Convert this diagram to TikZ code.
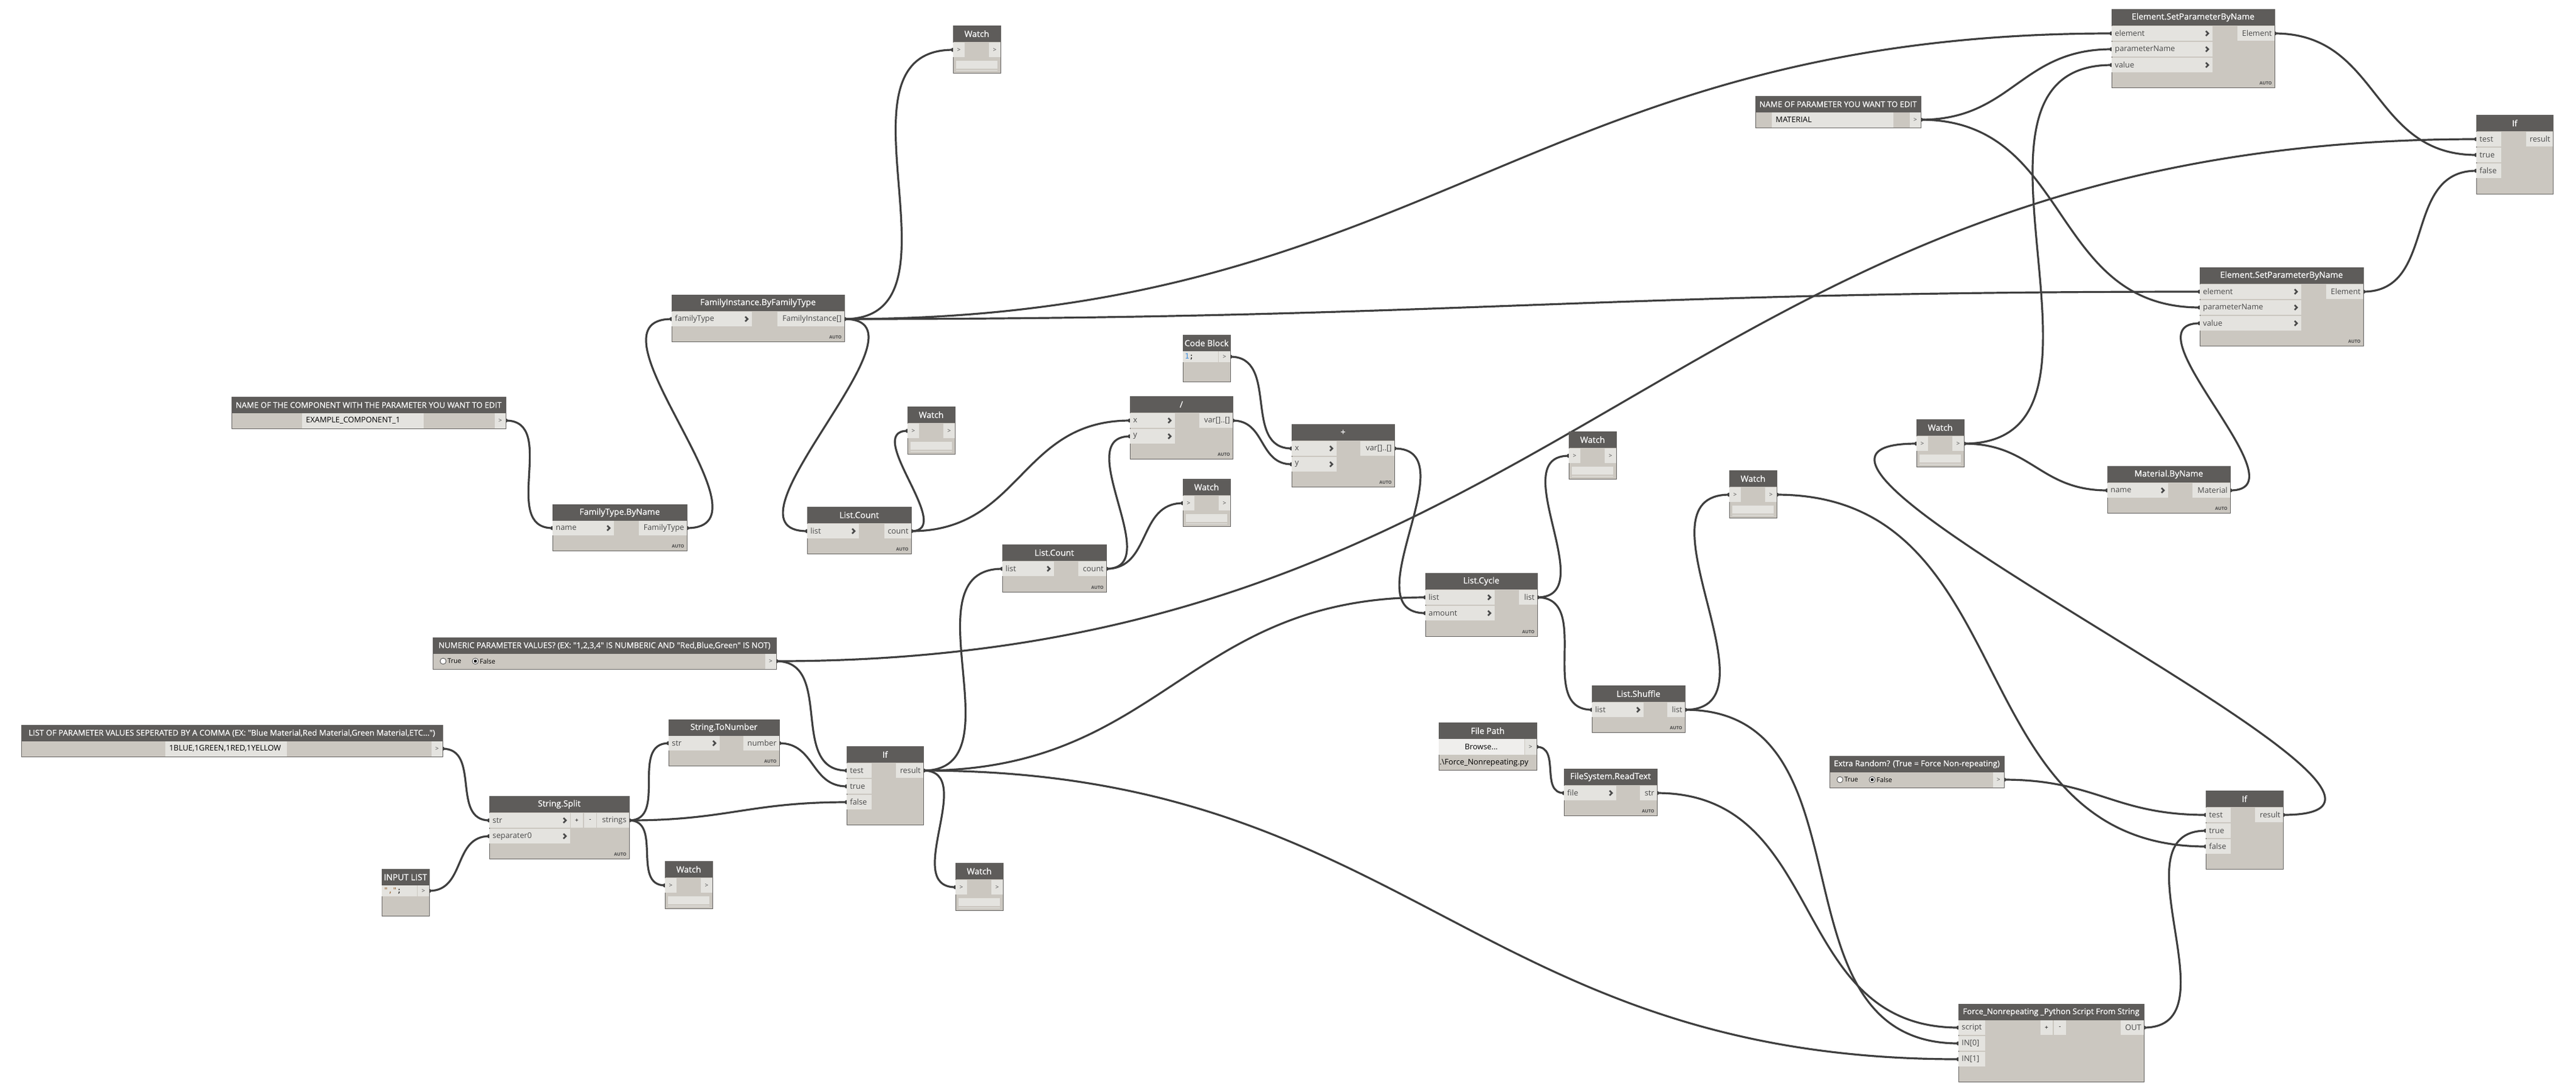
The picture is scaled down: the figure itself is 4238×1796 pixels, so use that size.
\documentclass[tikz,border=0pt]{standalone}
\usepackage{fontspec}
\setmainfont{Open Sans}
\setmonofont{DejaVu Sans Mono}
\newfontface\headface{Open Sans}[FakeBold=0.5]
\definecolor{hdgray}{RGB}{94,92,90}
\definecolor{bdgray}{RGB}{203,199,192}
\definecolor{ptgray}{RGB}{228,227,223}
\definecolor{edgray}{RGB}{100,98,96}
\definecolor{wrgray}{RGB}{62,62,62}
\definecolor{txgray}{RGB}{72,72,72}
\definecolor{dnum}{RGB}{58,140,222}
\definecolor{dstr}{RGB}{150,95,45}
\usetikzlibrary{positioning,calc,backgrounds}

\newcommand{\longtitle}{\fontsize{6.6}{8}\selectfont}
\newcommand{\dynbox}[6]{%
  \node[dbox, minimum width={(#4-#2)*0.5pt}, minimum height={(#5-#3)*0.5pt}] (#1) at (#2,#3) {};
  \fill[hdgray] (#2,#3) rectangle (#4,#3+27);
  \node[dtitle] at ({(#2+#4)/2},#3+13.5) {#6};
}
\newcommand{\dinput}[5]{%
  \fill[ptgray] (#2,#4-12.5) rectangle (#3,#4+12);
  \node[dlabel, anchor=west] at (#2+5,#4) {#5};
  \draw[chev] (#3-11,#4-4) -- (#3-7,#4) -- (#3-11,#4+4);
  \coordinate (#1) at (#2,#4);
}
\newcommand{\dinplain}[5]{%
  \fill[ptgray] (#2,#4-12.5) rectangle (#3,#4+12);
  \node[dlabel, anchor=west] at (#2+5,#4) {#5};
  \coordinate (#1) at (#2,#4);
}
\newcommand{\doutput}[5]{%
  \fill[ptgray] (#2,#4-12.5) rectangle (#3,#4+12);
  \node[dlabel, anchor=east] at (#3-4,#4) {#5};
  \coordinate (#1) at (#3,#4);
}
\newcommand{\dauto}[2]{\node[dauto] at (#1-4,#2-4) {AUTO};}
\newcommand{\dbtns}[2]{%
  \fill[ptgray] (#1,#2-12.5) rectangle (#1+20,#2+12);
  \fill[ptgray] (#1+22,#2-12.5) rectangle (#1+42,#2+12);
  \node[dsmall, text=black] at (#1+10,#2) {+};
  \node[dsmall, text=black] at (#1+32,#2) {-};
}
\newcommand{\dwatch}[3]{%
  \dynbox{#1}{#2}{#3}{#2+78}{#3+78}{Watch}
  \fill[ptgray] (#2,#3+28) rectangle (#2+19,#3+52);
  \fill[ptgray] (#2+59,#3+28) rectangle (#2+78,#3+52);
  \node[dsmall] at (#2+9.5,#3+40) {>};
  \node[dsmall] at (#2+68.5,#3+40) {>};
  \fill[ptgray] (#2+5,#3+58) rectangle (#2+73,#3+71);
  \fill[ptgray!60!bdgray] (#2+5,#3+72.5) rectangle (#2+73,#3+74.5);
  \coordinate (#1-i) at (#2,#3+40);
  \coordinate (#1-o) at (#2+78,#3+40);
}
\newcommand{\dstring}[8]{%
  \dynbox{#1}{#2}{#3}{#4}{#3+52}{\longtitle #8}
  \fill[ptgray] (#5,#3+27) rectangle (#6,#3+52);
  \node[dlabel, text=black, anchor=west] at (#5+6,#3+39) {#7};
  \fill[ptgray] (#4-18,#3+27) rectangle (#4,#3+52);
  \node[dsmall] at (#4-9,#3+39) {>};
  \coordinate (#1-o) at (#4,#3+39);
}
\newcommand{\dbool}[5]{%
  \dynbox{#1}{#2}{#3}{#4}{#3+52}{\longtitle #5}
  \draw[txgray, fill=white, line width=0.4pt] (#2+17,#3+39) circle (5);
  \node[dradio, anchor=west] at (#2+24,#3+39) {True};
  \draw[txgray, fill=white, line width=0.4pt] (#2+70,#3+39) circle (5);
  \fill[black] (#2+70,#3+39) circle (2.5);
  \node[dradio, anchor=west] at (#2+77,#3+39) {False};
  \fill[ptgray] (#4-18,#3+27) rectangle (#4,#3+52);
  \node[dsmall] at (#4-9,#3+39) {>};
  \coordinate (#1-o) at (#4,#3+39);
}
\newcommand{\dcode}[5]{%
  \dynbox{#1}{#2}{#3}{#2+78}{#3+77}{#4}
  \fill[ptgray] (#2,#3+27) rectangle (#2+58,#3+45);
  \fill[ptgray] (#2+59,#3+27) rectangle (#2+78,#3+45);
  \node[dcodetxt, anchor=west] at (#2+3,#3+36) {#5};
  \node[dsmall] at (#2+68.5,#3+36) {>};
  \coordinate (#1-o) at (#2+78,#3+36);
}
\newcommand{\wire}[2]{%
  \draw[wire] let \p1=(#1), \p2=(#2), \n1={9*veclen((\x2-\x1)/20,(\y2-\y1)/20)} in
    (#1) .. controls +(\n1,0) and +(-\n1,0) .. (#2);
  \fill[wrgray] (#1) circle (3.5) (#2) circle (3.5);
}

\begin{document}
\begin{tikzpicture}[x=0.5pt, y=-0.5pt,
    dbox/.style={draw=edgray, line width=0.5pt, fill=bdgray, anchor=north west, inner sep=0pt, outer sep=0pt},
    dtitle/.style={text=white, font=\headface\fontsize{7}{8.4}\selectfont, inner sep=0pt},
    dlabel/.style={text=txgray, font=\fontsize{6.4}{7.6}\selectfont, inner sep=0pt},
    dradio/.style={text=black, font=\fontsize{5.4}{6.5}\selectfont, inner sep=0pt},
    dsmall/.style={text=txgray, font=\fontsize{5}{6}\selectfont, inner sep=0pt},
    dcodetxt/.style={font=\fontsize{6}{7}\selectfont\ttfamily, inner sep=0pt},
    dauto/.style={text=txgray, font=\fontsize{3.6}{4}\selectfont\bfseries, inner sep=0pt, anchor=south east},
    chev/.style={draw=txgray, line width=1.3pt},
    wire/.style={draw=wrgray, line width=1.6pt}]
  \useasboundingbox (0,0) rectangle (4238,1796);

  \dstring{compname}{381}{653}{832}{497}{697}{EXAMPLE\_COMPONENT\_1}{NAME OF THE COMPONENT WITH THE PARAMETER YOU WANT TO EDIT}
  \dstring{lpv}{35}{1193}{728}{272}{472}{1BLUE,1GREEN,1RED,1YELLOW}{LIST OF PARAMETER VALUES SEPERATED BY A COMMA (EX: "Blue Material,Red Material,Green Material,ETC...")}
  \dstring{param}{2888}{158}{3160}{2915}{3115}{MATERIAL}{NAME OF PARAMETER YOU WANT TO EDIT}
  \dbool{numeric}{712}{1049}{1277}{NUMERIC PARAMETER VALUES? (EX: "1,2,3,4" IS NUMBERIC AND "Red,Blue,Green" IS NOT)}
  \dbool{extra}{3010}{1244}{3297}{Extra Random? (True = Force Non-repeating)}
  \dcode{code}{1946}{551}{Code Block}{\textcolor{dnum}{1};}
  \dcode{inlist}{628}{1430}{INPUT LIST}{\textcolor{dstr}{","};}

  \dynbox{ftbn}{909}{830}{1130}{906}{FamilyType.ByName}
  \dinput{ftbn-i1}{909}{1010}{869}{name}
  \doutput{ftbn-o}{1051}{1130}{869}{FamilyType}
  \dauto{1130}{906}

  \dynbox{fibt}{1105}{485}{1389}{562}{FamilyInstance.ByFamilyType}
  \dinput{fibt-i1}{1105}{1237}{525}{familyType}
  \doutput{fibt-o}{1279}{1389}{525}{FamilyInstance[]}
  \dauto{1389}{562}

  \dynbox{lcA}{1328}{834}{1499}{911}{List.Count}
  \dinput{lcA-i1}{1328}{1413}{874}{list}
  \doutput{lcA-o}{1455}{1499}{874}{count}
  \dauto{1499}{911}

  \dynbox{lcB}{1649}{896}{1820}{974}{List.Count}
  \dinput{lcB-i1}{1649}{1734}{936}{list}
  \doutput{lcB-o}{1774}{1820}{936}{count}
  \dauto{1820}{974}

  \dynbox{divn}{1859}{652}{2028}{755}{/}
  \dinput{divn-i1}{1859}{1933}{692}{x}
  \dinput{divn-i2}{1859}{1933}{718}{y}
  \doutput{divn-o}{1973}{2028}{692}{var[]..[]}
  \dauto{2028}{755}

  \dynbox{plus}{2125}{698}{2294}{801}{+}
  \dinput{plus-i1}{2125}{2199}{738}{x}
  \dinput{plus-i2}{2125}{2199}{764}{y}
  \doutput{plus-o}{2238}{2294}{738}{var[]..[]}
  \dauto{2294}{801}

  \dynbox{cycle}{2345}{943}{2529}{1047}{List.Cycle}
  \dinput{cycle-i1}{2345}{2459}{983}{list}
  \dinput{cycle-i2}{2345}{2459}{1009}{amount}
  \doutput{cycle-o}{2499}{2529}{983}{list}
  \dauto{2529}{1047}

  \dynbox{shuffle}{2619}{1128}{2772}{1205}{List.Shuffle}
  \dinput{shuffle-i1}{2619}{2704}{1168}{list}
  \doutput{shuffle-o}{2743}{2772}{1168}{list}
  \dauto{2772}{1205}

  \dynbox{fpath}{2367}{1189}{2528}{1267}{File Path}
  \fill[ptgray!60!white] (2367,1216) rectangle (2508,1242);
  \node[dlabel, text=black] at (2437,1229) {Browse...};
  \fill[ptgray] (2509,1216) rectangle (2528,1242);
  \node[dsmall] at (2518,1229) {>};
  \node[dlabel, text=black, anchor=west] at (2368,1255) {.\textbackslash Force\_Nonrepeating.py};
  \coordinate (fpath-o) at (2528,1229);

  \dynbox{rtext}{2573}{1265}{2726}{1342}{FileSystem.ReadText}
  \dinput{rtext-i1}{2573}{2659}{1305}{file}
  \doutput{rtext-o}{2698}{2726}{1305}{str}
  \dauto{2726}{1342}

  \dynbox{split}{805}{1310}{1035}{1413}{String.Split}
  \dinput{split-i1}{805}{938}{1350}{str}
  \dinput{split-i2}{805}{938}{1376}{separater0}
  \dbtns{939}{1350}
  \doutput{split-o}{982}{1035}{1350}{strings}
  \dauto{1035}{1413}

  \dynbox{tonum}{1100}{1184}{1282}{1260}{String.ToNumber}
  \dinput{tonum-i1}{1100}{1184}{1223}{str}
  \doutput{tonum-o}{1223}{1282}{1223}{number}
  \dauto{1282}{1260}

  \dynbox{ifA}{1393}{1228}{1519}{1357}{If}
  \dinplain{ifA-i1}{1393}{1434}{1268}{test}
  \dinplain{ifA-i2}{1393}{1434}{1294}{true}
  \dinplain{ifA-i3}{1393}{1434}{1320}{false}
  \doutput{ifA-o}{1474}{1519}{1268}{result}

  \dynbox{ifB}{3629}{1301}{3756}{1430}{If}
  \dinplain{ifB-i1}{3629}{3670}{1341}{test}
  \dinplain{ifB-i2}{3629}{3670}{1367}{true}
  \dinplain{ifB-i3}{3629}{3670}{1393}{false}
  \doutput{ifB-o}{3710}{3756}{1341}{result}

  \dynbox{ifC}{4074}{189}{4200}{319}{If}
  \dinplain{ifC-i1}{4074}{4115}{229}{test}
  \dinplain{ifC-i2}{4074}{4115}{255}{true}
  \dinplain{ifC-i3}{4074}{4115}{281}{false}
  \doutput{ifC-o}{4156}{4200}{229}{result}

  \dynbox{py}{3222}{1652}{3527}{1780}{\longtitle Force\_Nonrepeating \_Python Script From String}
  \dinplain{py-i1}{3222}{3266}{1691}{script}
  \dinplain{py-i2}{3222}{3266}{1717}{IN[0]}
  \dinplain{py-i3}{3222}{3266}{1743}{IN[1]}
  \dbtns{3357}{1691}
  \doutput{py-o}{3489}{3527}{1691}{OUT}

  \dynbox{espA}{3474}{15}{3742}{144}{Element.SetParameterByName}
  \dinput{espA-i1}{3474}{3640}{55}{element}
  \dinput{espA-i2}{3474}{3640}{81}{parameterName}
  \dinput{espA-i3}{3474}{3640}{107}{value}
  \doutput{espA-o}{3681}{3742}{55}{Element}
  \dauto{3742}{144}

  \dynbox{espB}{3619}{440}{3888}{569}{Element.SetParameterByName}
  \dinput{espB-i1}{3619}{3786}{480}{element}
  \dinput{espB-i2}{3619}{3786}{506}{parameterName}
  \dinput{espB-i3}{3619}{3786}{532}{value}
  \doutput{espB-o}{3827}{3888}{480}{Element}
  \dauto{3888}{569}

  \dynbox{matbn}{3467}{767}{3669}{844}{Material.ByName}
  \dinput{matbn-i1}{3467}{3567}{807}{name}
  \doutput{matbn-o}{3607}{3669}{807}{Material}
  \dauto{3669}{844}

  \dwatch{watchA}{1568}{42}
  \dwatch{watchB}{1493}{669}
  \dwatch{watchC}{1946}{788}
  \dwatch{watchD}{2581}{710}
  \dwatch{watchE}{2845}{774}
  \dwatch{watchF}{1094}{1417}
  \dwatch{watchG}{1572}{1420}
  \dwatch{watchH}{3153}{690}

  \begin{scope}[on background layer]
    \wire{compname-o}{ftbn-i1}
    \wire{ftbn-o}{fibt-i1}
    \wire{fibt-o}{watchA-i}
    \wire{fibt-o}{lcA-i1}
    \wire{fibt-o}{espA-i1}
    \wire{fibt-o}{espB-i1}
    \wire{lcA-o}{watchB-i}
    \wire{lcA-o}{divn-i1}
    \wire{lcB-o}{divn-i2}
    \wire{lcB-o}{watchC-i}
    \wire{code-o}{plus-i1}
    \wire{divn-o}{plus-i2}
    \wire{plus-o}{cycle-i2}
    \wire{ifA-o}{lcB-i1}
    \wire{ifA-o}{cycle-i1}
    \wire{ifA-o}{watchG-i}
    \wire{ifA-o}{py-i3}
    \wire{numeric-o}{ifA-i1}
    \wire{numeric-o}{ifC-i1}
    \wire{tonum-o}{ifA-i2}
    \wire{split-o}{tonum-i1}
    \wire{split-o}{ifA-i3}
    \wire{split-o}{watchF-i}
    \wire{lpv-o}{split-i1}
    \wire{inlist-o}{split-i2}
    \wire{cycle-o}{watchD-i}
    \wire{cycle-o}{shuffle-i1}
    \wire{shuffle-o}{watchE-i}
    \wire{shuffle-o}{py-i2}
    \wire{rtext-o}{py-i1}
    \wire{fpath-o}{rtext-i1}
    \wire{watchE-o}{ifB-i3}
    \wire{extra-o}{ifB-i1}
    \wire{py-o}{ifB-i2}
    \wire{ifB-o}{watchH-i}
    \wire{watchH-o}{espA-i3}
    \wire{watchH-o}{matbn-i1}
    \wire{matbn-o}{espB-i3}
    \wire{param-o}{espA-i2}
    \wire{param-o}{espB-i2}
    \wire{espA-o}{ifC-i2}
    \wire{espB-o}{ifC-i3}
  \end{scope}
\end{tikzpicture}
\end{document}
